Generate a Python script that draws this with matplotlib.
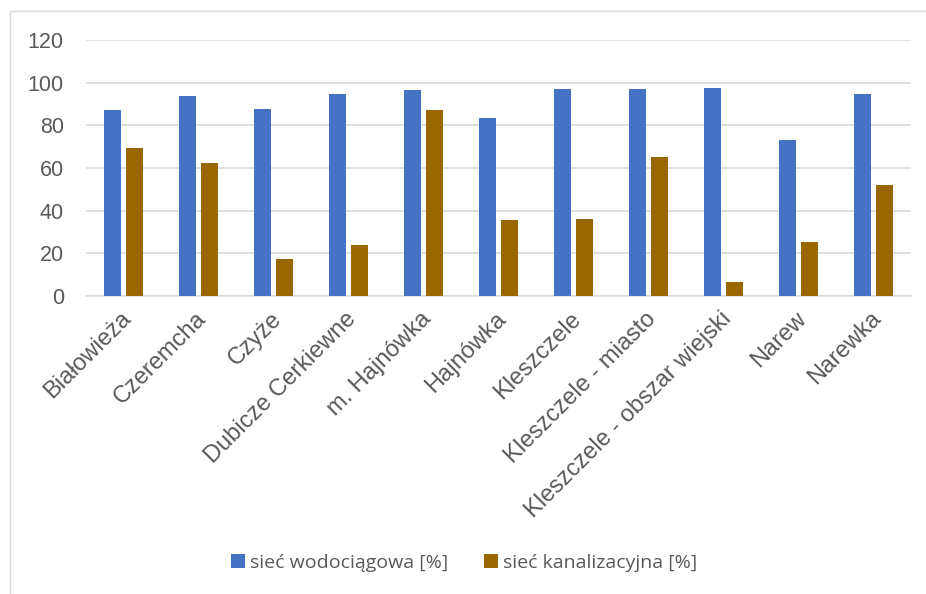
import matplotlib
matplotlib.use("Agg")
import matplotlib.pyplot as plt
import matplotlib.transforms as mtransforms
import numpy as np
from matplotlib.patches import Rectangle

categories = ["Białowieża", "Czeremcha", "Czyże", "Dubicze Cerkiewne", "m. Hajnówka",
              "Hajnówka", "Kleszczele", "Kleszczele - miasto",
              "Kleszczele - obszar wiejski", "Narew", "Narewka"]
water = [87.4, 93.8, 87.8, 94.9, 96.7, 83.6, 97.2, 97.0, 97.3, 73.0, 94.9]
sewer = [69.4, 62.2, 17.3, 23.9, 87.4, 35.4, 36.0, 65.2, 6.7, 25.4, 51.9]
series_names = ["sieć wodociągowa [%]", "sieć kanalizacyjna [%]"]
yticks = [0, 20, 40, 60, 80, 100, 120]

W, H = 926, 594
fig = plt.figure(figsize=(W / 100, H / 100), dpi=100)
fig.patch.set_facecolor("white")

# chart border (partly cropped)
fig.add_artist(Rectangle((10 / W, -0.1), 1.2, (H - 11) / H + 0.1, transform=fig.transFigure,
                         fill=False, edgecolor="#d9d9d9", linewidth=1.0))

left, right, top, bottom = 86, 911, 40, 296
ax = fig.add_axes([left / W, 1 - bottom / H, (right - left) / W, (bottom - top) / H])

x = np.arange(len(categories))
bw = 0.222
off = 0.143
ax.bar(x - off, water, bw, color="#4472c4", label=series_names[0], zorder=3)
ax.bar(x + off, sewer, bw, color="#996600", label=series_names[1], zorder=3)

ax.set_xlim(-0.5, len(categories) - 0.5)
ax.set_ylim(0, 120)
ax.set_yticks(yticks)
ax.yaxis.grid(True, color="#d9d9d9", linewidth=1.2, zorder=0)
for s in ["top", "right", "left"]:
    ax.spines[s].set_visible(False)
ax.spines["bottom"].set_color("#d9d9d9")
ax.spines["bottom"].set_linewidth(1.2)
ax.tick_params(axis="both", length=0, colors="#595959")
ax.tick_params(axis="y", pad=16)
ax.set_yticklabels([str(t) for t in yticks], fontsize=15.5, family="Liberation Sans", color="#595959")
ax.set_xticks(x)
ax.set_xticklabels(categories, rotation=45, ha="right", va="center", rotation_mode="anchor",
                   fontsize=17, family="Liberation Sans", color="#595959")
ax.tick_params(axis="x", pad=14)
shift = mtransforms.ScaledTranslation(4.5 / 100, 0, fig.dpi_scale_trans)
for lab in ax.get_xticklabels():
    lab.set_transform(lab.get_transform() + shift)

leg = fig.legend(loc="center", bbox_to_anchor=(0.501, 1 - 563 / H), ncol=2, frameon=False,
                 prop={"family": "Open Sans", "size": 14}, handlelength=0.72, handleheight=0.72,
                 handletextpad=0.25, columnspacing=1.85)
for t in leg.get_texts():
    t.set_color("#595959")

fig.savefig("out.png", dpi=100)
